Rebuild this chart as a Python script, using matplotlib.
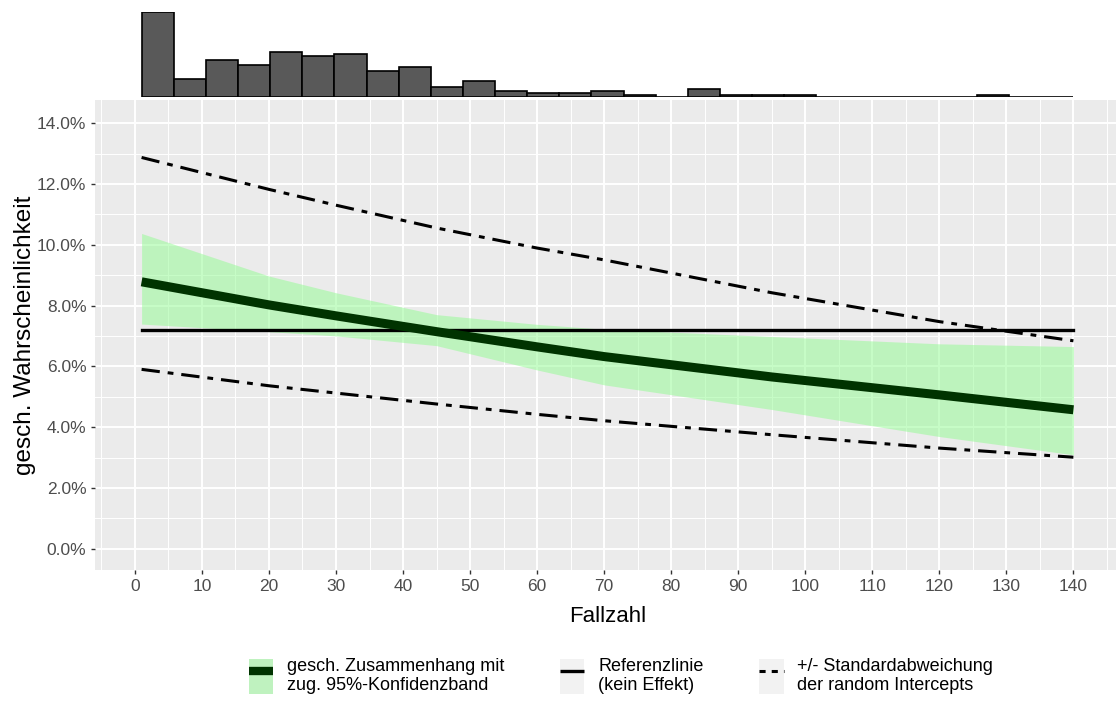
import numpy as np
import matplotlib
matplotlib.use("Agg")
from matplotlib import pyplot as plt
from matplotlib.patches import Patch
from matplotlib.lines import Line2D
from matplotlib.legend_handler import HandlerTuple
from matplotlib.ticker import FuncFormatter, MultipleLocator

plt.rcParams['font.family'] = ['Liberation Sans', 'DejaVu Sans']

# histogram of Fallzahl (counts per bin, bins from 1 to 140)
bin_edges = np.linspace(1, 140, 30)
bin_counts = [42, 9, 18, 16, 22, 20, 21, 13, 15, 5, 8, 3, 2, 2, 3,
              1, 0, 4, 1, 1, 1, 0, 0, 0, 0, 0, 1, 0, 0]

# model curves (probability)
fallzahl = [1, 20, 30, 45, 60, 70, 95, 120, 140]
fit = [0.0878, 0.0802, 0.0766, 0.0714, 0.0664, 0.0632, 0.0565, 0.0506, 0.0457]
ci_upper = [0.1037, 0.0897, 0.0842, 0.0770, 0.0738, 0.0722, 0.0698, 0.0674, 0.0665]
ci_lower = [0.0739, 0.0714, 0.0700, 0.0668, 0.0588, 0.0539, 0.0458, 0.0369, 0.0309]
sd_upper = [0.1287, 0.1182, 0.1130, 0.1055, 0.0989, 0.0950, 0.0842, 0.0747, 0.0684]
sd_lower = [0.0590, 0.0536, 0.0512, 0.0476, 0.0442, 0.0421, 0.0375, 0.0331, 0.0301]
reference = 0.072

W, H = 1116, 702
fig = plt.figure(figsize=(W / 100, H / 100), dpi=100)

xlim = (-5.95, 146.95)
dashdot = (0, (6, 2.6, 1.9, 2.6))

# main panel
ax = fig.add_axes([95 / W, (H - 570) / H, (1120 - 95) / W, 470 / H])
ax.set_facecolor('#EBEBEB')
for s in ax.spines.values():
    s.set_visible(False)

ax.fill_between(fallzahl, ci_lower, ci_upper, color='#98FB98', alpha=0.55, lw=0, zorder=2)
ax.plot(fallzahl, fit, color='#003300', lw=6.5, zorder=4, solid_capstyle='butt')
ax.plot([fallzahl[0], fallzahl[-1]], [reference, reference], color='black', lw=2.4, zorder=3)
ax.plot(fallzahl, sd_upper, color='black', lw=2.2, ls=dashdot, zorder=3)
ax.plot(fallzahl, sd_lower, color='black', lw=2.2, ls=dashdot, zorder=3)

ax.set_xlim(*xlim)
ax.set_ylim(-0.007, 0.1476)
ax.xaxis.set_major_locator(MultipleLocator(10))
ax.xaxis.set_minor_locator(MultipleLocator(5))
ax.yaxis.set_major_locator(MultipleLocator(0.02))
ax.yaxis.set_minor_locator(MultipleLocator(0.01))
ax.yaxis.set_major_formatter(FuncFormatter(lambda v, p: f"{v * 100:.1f}%"))
ax.grid(which='major', color='white', lw=1.4, zorder=0)
ax.grid(which='minor', color='white', lw=0.7, zorder=0)
ax.set_axisbelow(True)
ax.tick_params(which='major', length=3.2, width=1, color='#333333',
               labelcolor='#4D4D4D', labelsize=12.5, pad=3)
ax.tick_params(which='minor', length=0)
ax.set_xlabel('Fallzahl', fontsize=16, labelpad=9)
ax.set_ylabel('gesch. Wahrscheinlichkeit', fontsize=17.5, labelpad=1)

# marginal histogram
axh = fig.add_axes([95 / W, (H - 97) / H, (1120 - 95) / W, (97 - 11.7) / H])
axh.bar(bin_edges[:-1], bin_counts, width=np.diff(bin_edges), align='edge',
        color='#595959', edgecolor='black', lw=1.2)
axh.set_xlim(*xlim)
axh.set_ylim(0, max(bin_counts))
axh.axis('off')

# legend
band_key = Patch(facecolor='#bff2bf', edgecolor='none')
grey_key = Patch(facecolor='#F2F2F2', edgecolor='none')
handles = [
    (band_key, Line2D([], [], color='#003300', lw=6, solid_capstyle='butt')),
    (grey_key, Line2D([], [], color='black', lw=2.4, solid_capstyle='butt')),
    (grey_key, Line2D([], [], color='black', lw=2.2, ls=(0, (2, 2)))),
]
labels = ['gesch. Zusammenhang mit\nzug. 95%-Konfidenzband',
          'Referenzlinie\n(kein Effekt)',
          '+/- Standardabweichung\nder random Intercepts']
fig.legend(handles, labels, handler_map={tuple: HandlerTuple(ndivide=1, pad=0)},
           loc='center', bbox_to_anchor=(621 / W, (H - 676) / H), ncol=3,
           frameon=False, fontsize=13, handlelength=1.35, handleheight=2.6,
           handletextpad=0.75, columnspacing=3.1, labelspacing=0.2)

fig.savefig('out.png', dpi=100)
